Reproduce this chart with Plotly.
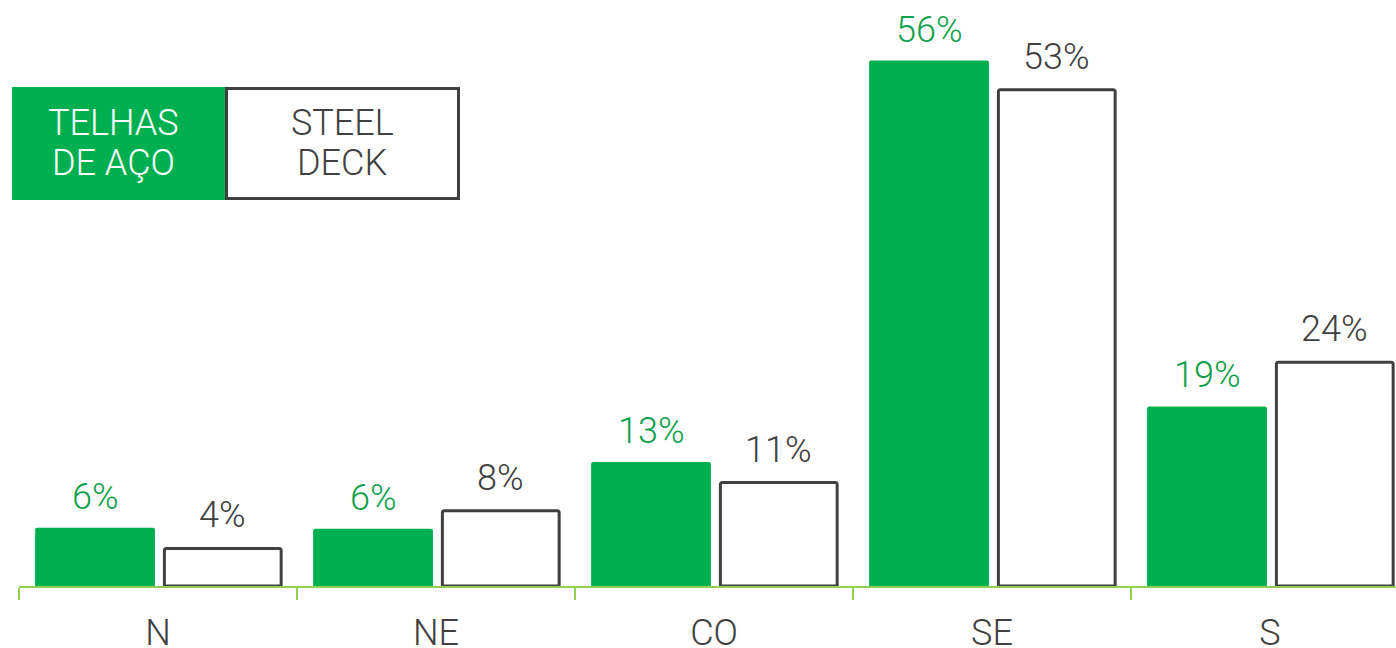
import plotly.graph_objects as go

categories = ["N", "NE", "CO", "SE", "S"]
telhas_de_aco = [6.2, 6.1, 13.2, 55.9, 19.1]
steel_deck = [4.0, 8.0, 11.0, 52.8, 23.8]
legend_labels = ["TELHAS<br>DE AÇO", "STEEL<br>DECK"]

GREEN = "#00B050"
GREEN_TXT = "#10A04C"
DARK = "#404040"
AXIS_GREEN = "#92D050"
FONT = "Roboto"

W, H = 1396, 648
ML, MR, MT, MB = 19, 0, 8, 62
PW, PH = W - ML - MR, H - MT - MB
PX_PER_UNIT = 9.4
CAT_PX = 278.0
X_MAX = -0.5 + PW / CAT_PX


def px(xs):
    return (xs - ML) / PW


def py(ys):
    return 1 - (ys - MT) / PH


fig = go.Figure()
series = [
    (telhas_de_aco, "TELHAS DE AÇO", dict(color=GREEN, line=dict(width=0), cornerradius=2), -0.442, 0.431, GREEN_TXT, 31),
    (steel_deck, "STEEL DECK", dict(color="white", line=dict(width=3, color=DARK), cornerradius=2), 0.023, 0.42, DARK, 33),
]
for vals, name, marker, off, wid, tcol, ysh in series:
    fig.add_trace(go.Bar(x=categories, y=vals, name=name, marker=marker,
                         offset=off, width=wid, cliponaxis=False))
    for c, v in zip(categories, vals):
        fig.add_annotation(x=c, y=v, xref="x", yref="y", text=f"{v:.0f}%",
                           showarrow=False, xanchor="center", yanchor="middle",
                           xshift=(off + wid / 2) * CAT_PX, yshift=ysh,
                           font=dict(family=FONT, size=36, color=tcol, weight=300))

# custom legend boxes
fig.add_shape(type="rect", xref="paper", yref="paper",
              x0=px(12), x1=px(226), y0=py(200), y1=py(87),
              fillcolor=GREEN, line=dict(width=0), layer="above")
fig.add_shape(type="rect", xref="paper", yref="paper",
              x0=px(226.5), x1=px(458.5), y0=py(198.5), y1=py(88.5),
              fillcolor="white", line=dict(width=3, color=DARK), layer="above")

for label, cx, col in [(legend_labels[0], 113, "white"), (legend_labels[1], 342, DARK)]:
    for i, line in enumerate(label.split("<br>")):
        fig.add_annotation(xref="paper", yref="paper", x=px(cx), y=py(123 + 40 * i),
                           text=line, showarrow=False, xanchor="center", yanchor="middle",
                           font=dict(family=FONT, size=36, color=col, weight=300))

fig.update_layout(
    width=W, height=H,
    margin=dict(l=ML, r=MR, t=MT, b=MB, autoexpand=False),
    plot_bgcolor="white", paper_bgcolor="white",
    showlegend=False, barmode="group",
    font=dict(family=FONT, color=DARK),
)
fig.update_xaxes(
    type="category", range=[-0.5, X_MAX], automargin=False,
    showline=True, linecolor=AXIS_GREEN, linewidth=2,
    ticks="outside", tickson="boundaries", ticklen=12, tickwidth=2, tickcolor=AXIS_GREEN,
    ticklabelstandoff=14,
    tickfont=dict(family=FONT, size=36, color=DARK, weight=300),
    showgrid=False, zeroline=False,
)
fig.update_yaxes(visible=False, automargin=False, range=[0, PH / PX_PER_UNIT],
                 showgrid=False, zeroline=False)

fig.write_html(
    "out.html",
    config={"displayModeBar": False},
    post_script="document.body.style.margin='0';document.body.style.overflow='hidden';",
)
